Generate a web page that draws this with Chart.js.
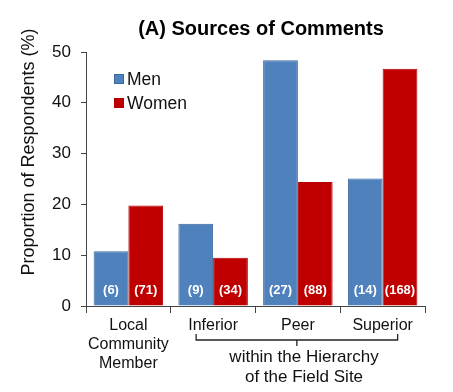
<!DOCTYPE html>
<html>
<head>
<meta charset="utf-8">
<script src="https://cdn.jsdelivr.net/npm/chart.js@4"></script>
<style>
html,body{margin:0;padding:0;background:#fff;}
#wrap{width:453px;height:392px;}
</style>
</head>
<body>
<div id="wrap"><canvas id="c" width="453" height="392"></canvas></div>
<script>
const categories = [["Local","Community","Member"], "Inferior", "Peer", "Superior"];
const menValues = [10.8, 16.2, 48.4, 25.1];
const womenValues = [19.8, 9.5, 24.4, 46.7];
const menCounts = ["(6)", "(9)", "(27)", "(14)"];
const womenCounts = ["(71)", "(34)", "(88)", "(168)"];
const yTicks = [0, 10, 20, 30, 40, 50];
const titleText = "(A) Sources of Comments";
const yTitleText = "Proportion of Respondents (%)";
const groupText = ["within the Hierarchy", "of the Field Site"];

const FONT = "'Liberation Sans', Arial, sans-serif";

const extras = {
  id: 'extras',
  afterDatasetsDraw(chart) {
    const ctx = chart.ctx;
    const ca = chart.chartArea;
    ctx.save();
    ctx.fillStyle = '#ffffff';
    ctx.font = 'bold 13px ' + FONT;
    ctx.textAlign = 'center';
    ctx.textBaseline = 'middle';
    const counts = [menCounts, womenCounts];
    chart.data.datasets.forEach((ds, di) => {
      chart.getDatasetMeta(di).data.forEach((bar, i) => {
        ctx.fillText(counts[di][i], bar.x, ca.bottom - 15.5);
      });
    });
    ctx.restore();
  },
  afterDraw(chart) {
    const ctx = chart.ctx;
    const xs = chart.scales.x;
    ctx.save();
    // title
    ctx.fillStyle = '#000';
    ctx.font = 'bold 20px ' + FONT;
    ctx.textAlign = 'center';
    ctx.textBaseline = 'middle';
    ctx.fillText(titleText, 261, 29);
    // y title
    ctx.save();
    ctx.translate(29, 152);
    ctx.rotate(-Math.PI / 2);
    ctx.font = '18px ' + FONT;
    ctx.fillStyle = '#111';
    ctx.fillText(yTitleText, 0, 0);
    ctx.restore();
    // legend
    ctx.font = '17.5px ' + FONT;
    ctx.textAlign = 'left';
    chart.data.datasets.forEach((ds, i) => {
      const y = 79 + i * 24;
      ctx.fillStyle = ds.backgroundColor;
      ctx.fillRect(114, y - 5, 10, 10);
      ctx.strokeStyle = ds.borderColor;
      ctx.lineWidth = 1;
      ctx.strokeRect(114.5, y - 4.5, 9, 9);
      ctx.fillStyle = '#111';
      ctx.fillText(ds.label, 127, y + 1);
    });
    // bracket under Inferior..Superior
    const xl = xs.getPixelForValue(1) - 17;
    const xr = xs.getPixelForValue(3) + 15;
    const xm = xs.getPixelForValue(2) - 1;
    ctx.strokeStyle = '#222';
    ctx.lineWidth = 1.3;
    ctx.beginPath();
    ctx.moveTo(xl, 334);
    ctx.lineTo(xl, 340);
    ctx.lineTo(xr, 340);
    ctx.lineTo(xr, 334);
    ctx.moveTo(xm, 340);
    ctx.lineTo(xm, 346);
    ctx.stroke();
    ctx.font = '17px ' + FONT;
    ctx.fillStyle = '#111';
    ctx.textAlign = 'center';
    ctx.fillText(groupText[0], 304, 357);
    ctx.fillText(groupText[1], 304, 377);
    ctx.restore();
  }
};

new Chart(document.getElementById('c'), {
  type: 'bar',
  data: {
    labels: categories,
    datasets: [
      { label: 'Men', data: menValues, backgroundColor: '#4F81BD', borderColor: '#3A679C', borderWidth: 1 },
      { label: 'Women', data: womenValues, backgroundColor: '#C00000', borderColor: '#B00000', borderWidth: 1 }
    ]
  },
  options: {
    responsive: false,
    animation: false,
    devicePixelRatio: 1,
    layout: { padding: { top: 52, right: 28, left: 0, bottom: 0 } },
    plugins: { legend: { display: false }, title: { display: false }, tooltip: { enabled: false } },
    datasets: { bar: { categoryPercentage: 0.82, barPercentage: 1.0 } },
    scales: {
      x: {
        grid: { display: true, offset: true, drawOnChartArea: false, tickLength: 7, color: '#444' },
        border: { color: '#444', width: 1 },
        ticks: { font: { size: 16, family: FONT }, color: '#111', padding: 3, maxRotation: 0, autoSkip: false },
        afterFit(s) { s.height = 86; }
      },
      y: {
        min: 0, max: 50,
        afterBuildTicks(s) { s.ticks = yTicks.map(v => ({ value: v })); },
        grid: { display: true, drawOnChartArea: false, tickLength: 5, color: '#444' },
        border: { color: '#444', width: 1 },
        ticks: { font: { size: 17, family: FONT }, color: '#111', padding: 10 },
        afterFit(s) { s.width = 86; }
      }
    }
  },
  plugins: [extras]
});
</script>
</body>
</html>
